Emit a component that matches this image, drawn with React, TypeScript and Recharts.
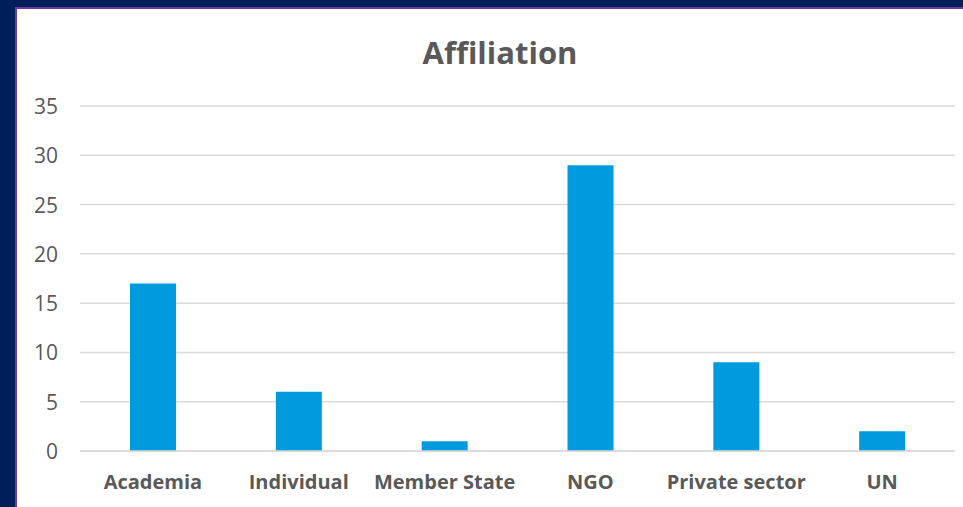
import React from 'react';
import { BarChart, Bar, XAxis, YAxis, CartesianGrid } from 'recharts';

const categories = ['Academia', 'Individual', 'Member State', 'NGO', 'Private sector', 'UN'];
const counts = [17, 6, 1, 29, 9, 2];
const yTicks = [0, 5, 10, 15, 20, 25, 30, 35];

const data = categories.map((name, i) => ({ name, value: counts[i] }));

const FONT = '"Open Sans", "Liberation Sans", sans-serif';
const TEXT = '#595959';

// y labels are right-aligned a bit left of the plot
const YTick = ({ y, payload }: any) => (
  <text x={58} y={y} textAnchor="end" dominantBaseline="central" fill={TEXT} fontSize={21} fontFamily={FONT}>
    {payload.value}
  </text>
);

const XTick = ({ x, y, payload }: any) => (
  <text x={x} y={y + 22} textAnchor="middle" dominantBaseline="central" fill={TEXT} fontSize={20} fontWeight={700} fontFamily={FONT}>
    {payload.value}
  </text>
);

export default function App() {
  return (
    <div style={{ position: 'absolute', left: 0, top: 0, width: 963, height: 507, background: '#001E5A', overflow: 'hidden' }}>
      <div style={{ position: 'absolute', left: 15, top: 7, right: 0, bottom: 0, background: '#6A3A9E' }} />
      <div style={{ position: 'absolute', left: 17, top: 9, right: 0, bottom: 0, background: '#FFFFFF' }} />
      <div
        style={{
          position: 'absolute',
          left: 0,
          top: 31,
          width: 1000,
          textAlign: 'center',
          fontFamily: FONT,
          fontWeight: 700,
          fontSize: 31,
          lineHeight: '42px',
          color: TEXT,
        }}
      >
        Affiliation
      </div>
      <div style={{ position: 'absolute', left: 0, top: 0 }}>
        <BarChart width={963} height={507} data={data} margin={{ top: 106, right: 8, bottom: 0, left: 0 }} barSize={46}>
          <CartesianGrid vertical={false} stroke="#D9D9D9" strokeWidth={1.5} />
          <XAxis
            dataKey="name"
            axisLine={{ stroke: '#D9D9D9', strokeWidth: 1.5 }}
            tickLine={false}
            tick={<XTick />}
            interval={0}
            height={56}
          />
          <YAxis
            domain={[0, 35]}
            ticks={yTicks}
            axisLine={false}
            tickLine={false}
            tick={<YTick />}
            width={80}
            interval={0}
          />
          <Bar dataKey="value" fill="#009ADE" isAnimationActive={false} />
        </BarChart>
      </div>
    </div>
  );
}
